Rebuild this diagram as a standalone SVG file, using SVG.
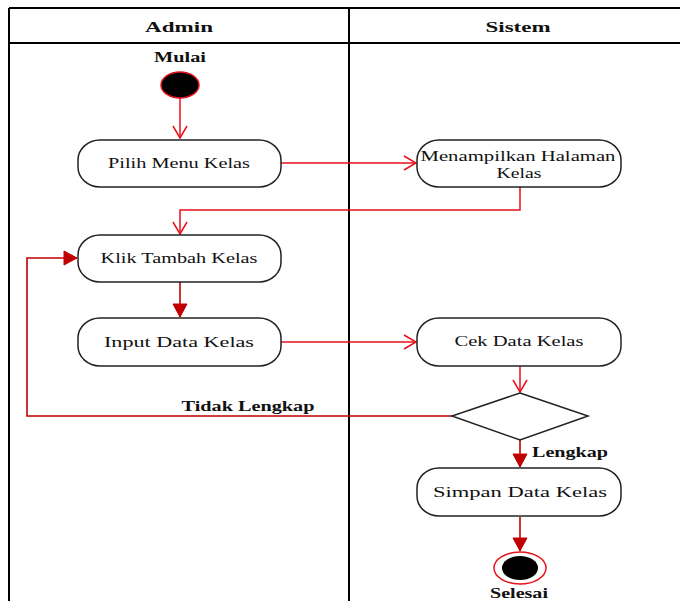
<svg xmlns="http://www.w3.org/2000/svg" width="680" height="601" viewBox="0 0 680 601">
<style>
.lane{fill:none;stroke:#000;stroke-width:2}
.node{fill:#fff;stroke:#222;stroke-width:1.5}
.t{font-family:"Liberation Serif","Times New Roman",serif;font-size:15px;fill:#111;text-anchor:middle}
.b{font-weight:bold}
.c1{fill:none;stroke:#e8101a;stroke-width:1.5}
.c2{fill:none;stroke:#c00000;stroke-width:1.6}
</style>
<defs>
<marker id="open" markerUnits="userSpaceOnUse" markerWidth="20" markerHeight="20" refX="14" refY="10" orient="auto">
<path d="M2,3 L14,10 L2,17" fill="none" stroke="#e8101a" stroke-width="1.5"/>
</marker>
<marker id="fill" markerUnits="userSpaceOnUse" markerWidth="20" markerHeight="20" refX="14" refY="10" orient="auto">
<path d="M1,3 L14,10 L1,17 Z" fill="#c00000" stroke="#c00000" stroke-width="1"/>
</marker>
</defs>
<g id="lanes">
<line class="lane" x1="9" y1="8" x2="680" y2="8"/>
<line class="lane" x1="9" y1="43" x2="680" y2="43"/>
<line class="lane" x1="9" y1="8" x2="9" y2="601"/>
<line class="lane" x1="349" y1="8" x2="349" y2="601"/>
<text class="t b" x="179" y="32" font-size="17" textLength="68" lengthAdjust="spacingAndGlyphs">Admin</text>
<text class="t b" x="518" y="32" font-size="17" textLength="65" lengthAdjust="spacingAndGlyphs">Sistem</text>
</g>
<g id="connectors">
<line class="c1" x1="180" y1="98" x2="180" y2="138" marker-end="url(#open)"/>
<line class="c1" x1="281" y1="163" x2="416" y2="163" marker-end="url(#open)"/>
<polyline class="c1" points="520,187 520,210 180,210 180,234" marker-end="url(#open)"/>
<line class="c2" x1="180" y1="282" x2="180" y2="317" marker-end="url(#fill)"/>
<line class="c1" x1="281" y1="342" x2="416" y2="342" marker-end="url(#open)"/>
<line class="c1" x1="520" y1="366" x2="520" y2="392" marker-end="url(#open)"/>
<polyline class="c2" points="452,416 27,416 27,258 77,258" marker-end="url(#fill)"/>
<line class="c2" x1="520" y1="440" x2="520" y2="467" marker-end="url(#fill)"/>
<line class="c2" x1="520" y1="517" x2="520" y2="551" marker-end="url(#fill)"/>
<text class="t b" x="248" y="411" textLength="133" lengthAdjust="spacingAndGlyphs">Tidak Lengkap</text>
<text class="t b" x="570" y="457" textLength="76" lengthAdjust="spacingAndGlyphs">Lengkap</text>
</g>
<g id="start">
<text class="t b" x="180" y="62" textLength="52" lengthAdjust="spacingAndGlyphs">Mulai</text>
<ellipse cx="180" cy="85" rx="19" ry="13" fill="#000" stroke="#e8101a" stroke-width="1.5"/>
</g>
<g id="pilih">
<rect class="node" x="78" y="140" width="203" height="47" rx="22" ry="20"/>
<text class="t" x="179" y="168" textLength="142" lengthAdjust="spacingAndGlyphs">Pilih Menu Kelas</text>
</g>
<g id="menampilkan">
<rect class="node" x="417" y="140" width="204" height="47" rx="22" ry="20"/>
<text class="t" x="518" y="161" textLength="195" lengthAdjust="spacingAndGlyphs">Menampilkan Halaman</text>
<text class="t" x="519" y="178" textLength="45" lengthAdjust="spacingAndGlyphs">Kelas</text>
</g>
<g id="klik">
<rect class="node" x="78" y="235" width="203" height="47" rx="22" ry="20"/>
<text class="t" x="179" y="263" textLength="157" lengthAdjust="spacingAndGlyphs">Klik Tambah Kelas</text>
</g>
<g id="input">
<rect class="node" x="78" y="318" width="203" height="48" rx="22" ry="20"/>
<text class="t" x="179" y="347" textLength="150" lengthAdjust="spacingAndGlyphs">Input Data Kelas</text>
</g>
<g id="cek">
<rect class="node" x="417" y="318" width="204" height="48" rx="22" ry="20"/>
<text class="t" x="519" y="346" textLength="129" lengthAdjust="spacingAndGlyphs">Cek Data Kelas</text>
</g>
<g id="decision">
<polygon class="node" points="520,393 588,416 520,440 452,416"/>
</g>
<g id="simpan">
<rect class="node" x="417" y="468" width="204" height="48" rx="22" ry="20"/>
<text class="t" x="520" y="497" textLength="174" lengthAdjust="spacingAndGlyphs">Simpan Data Kelas</text>
</g>
<g id="end">
<ellipse cx="520" cy="568" rx="26" ry="16" fill="#fff" stroke="#e8101a" stroke-width="1.5"/>
<ellipse cx="520" cy="568" rx="18" ry="12" fill="#000"/>
<text class="t b" x="519" y="598" font-size="14" textLength="58" lengthAdjust="spacingAndGlyphs">Selesai</text>
</g>
</svg>
